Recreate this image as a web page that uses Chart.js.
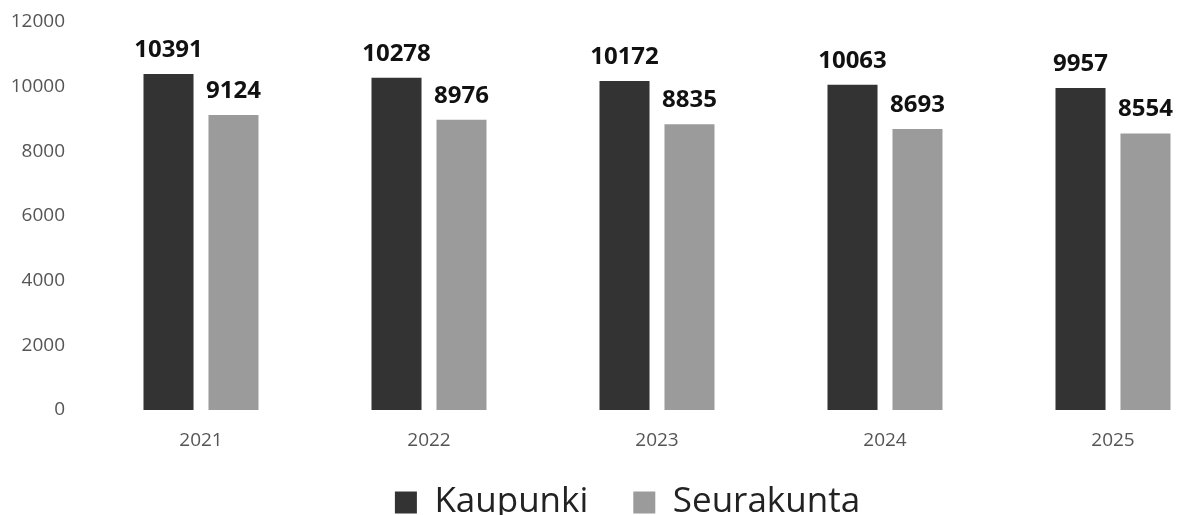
<!DOCTYPE html>
<html>
<head>
<meta charset="utf-8">
<script src="https://cdn.jsdelivr.net/npm/chart.js@4/dist/chart.umd.min.js"></script>
<style>
  html, body { margin: 0; padding: 0; background: #fff; overflow: hidden; }
  #wrap { position: absolute; left: 0; top: 0; width: 1235px; height: 515px; }
</style>
</head>
<body>
<div id="wrap"><canvas id="chart" width="1235" height="515"></canvas></div>
<script>
/* ─── Data ───────────────────────────────────────────── */
const years      = ['2021', '2022', '2023', '2024', '2025'];
const kaupunki   = [10391, 10278, 10172, 10063, 9957];
const seurakunta = [9124, 8976, 8835, 8693, 8554];
const yTicks     = [0, 2000, 4000, 6000, 8000, 10000, 12000];

const DARK  = '#333333';
const LIGHT = '#9b9b9b';
const FONT  = '"Open Sans", sans-serif';

/* ─── Value labels above bars ────────────────────────── */
const barValues = {
  id: 'barValues',
  afterDatasetsDraw(chart) {
    const ctx = chart.ctx;
    ctx.save();
    ctx.font = 'bold 24px ' + FONT;
    ctx.fillStyle = '#111';
    ctx.textAlign = 'center';
    ctx.textBaseline = 'alphabetic';
    chart.data.datasets.forEach((ds, i) => {
      chart.getDatasetMeta(i).data.forEach((bar, j) => {
        ctx.fillText(String(ds.data[j]), bar.x, bar.y - 17);
      });
    });
    ctx.restore();
  },
};

/* ─── Nudge legend to where the original sits ────────── */
const legendShift = {
  id: 'legendShift',
  afterLayout(chart) {
    const lg = chart.legend;
    const dx = 14;
    lg.left += dx; lg.right += dx;
    lg.top = 485 - lg.options.labels.padding;
  },
};

new Chart(document.getElementById('chart'), {
  type: 'bar',
  data: {
    labels: years,
    datasets: [
      { label: 'Kaupunki',   data: kaupunki,   backgroundColor: DARK },
      { label: 'Seurakunta', data: seurakunta, backgroundColor: LIGHT },
    ],
  },
  options: {
    responsive: false,
    animation: false,
    categoryPercentage: 0.57,
    barPercentage: 0.77,
    layout: { padding: { top: 22, left: 0, right: 8, bottom: 0 } },
    plugins: {
      legend: {
        position: 'bottom',
        maxHeight: 63,
        labels: {
          boxWidth: 22,
          boxHeight: 22,
          padding: 45,
          color: '#222',
          font: { family: FONT, size: 35 },
        },
      },
    },
    scales: {
      x: {
        grid:   { display: false, drawTicks: false },
        border: { display: false },
        ticks:  {
          color: '#555', padding: 19, maxRotation: 0,
          font: { family: FONT, size: 19 },
        },
        afterFit: (scale) => { scale.height = 42; },
      },
      y: {
        min: 0, max: 12000,
        grid:   { display: false, drawTicks: false },
        border: { display: false },
        afterBuildTicks: (scale) => { scale.ticks = yTicks.map(v => ({ value: v })); },
        ticks:  {
          color: '#555', padding: 22,
          font: { family: FONT, size: 19 },
          callback: (v) => String(v),
        },
        afterFit: (scale) => {
          scale.width = 87;
          scale.paddingTop = 0;
          scale.paddingBottom = 0;
        },
      },
    },
  },
  plugins: [barValues, legendShift],
});
</script>
</body>
</html>
